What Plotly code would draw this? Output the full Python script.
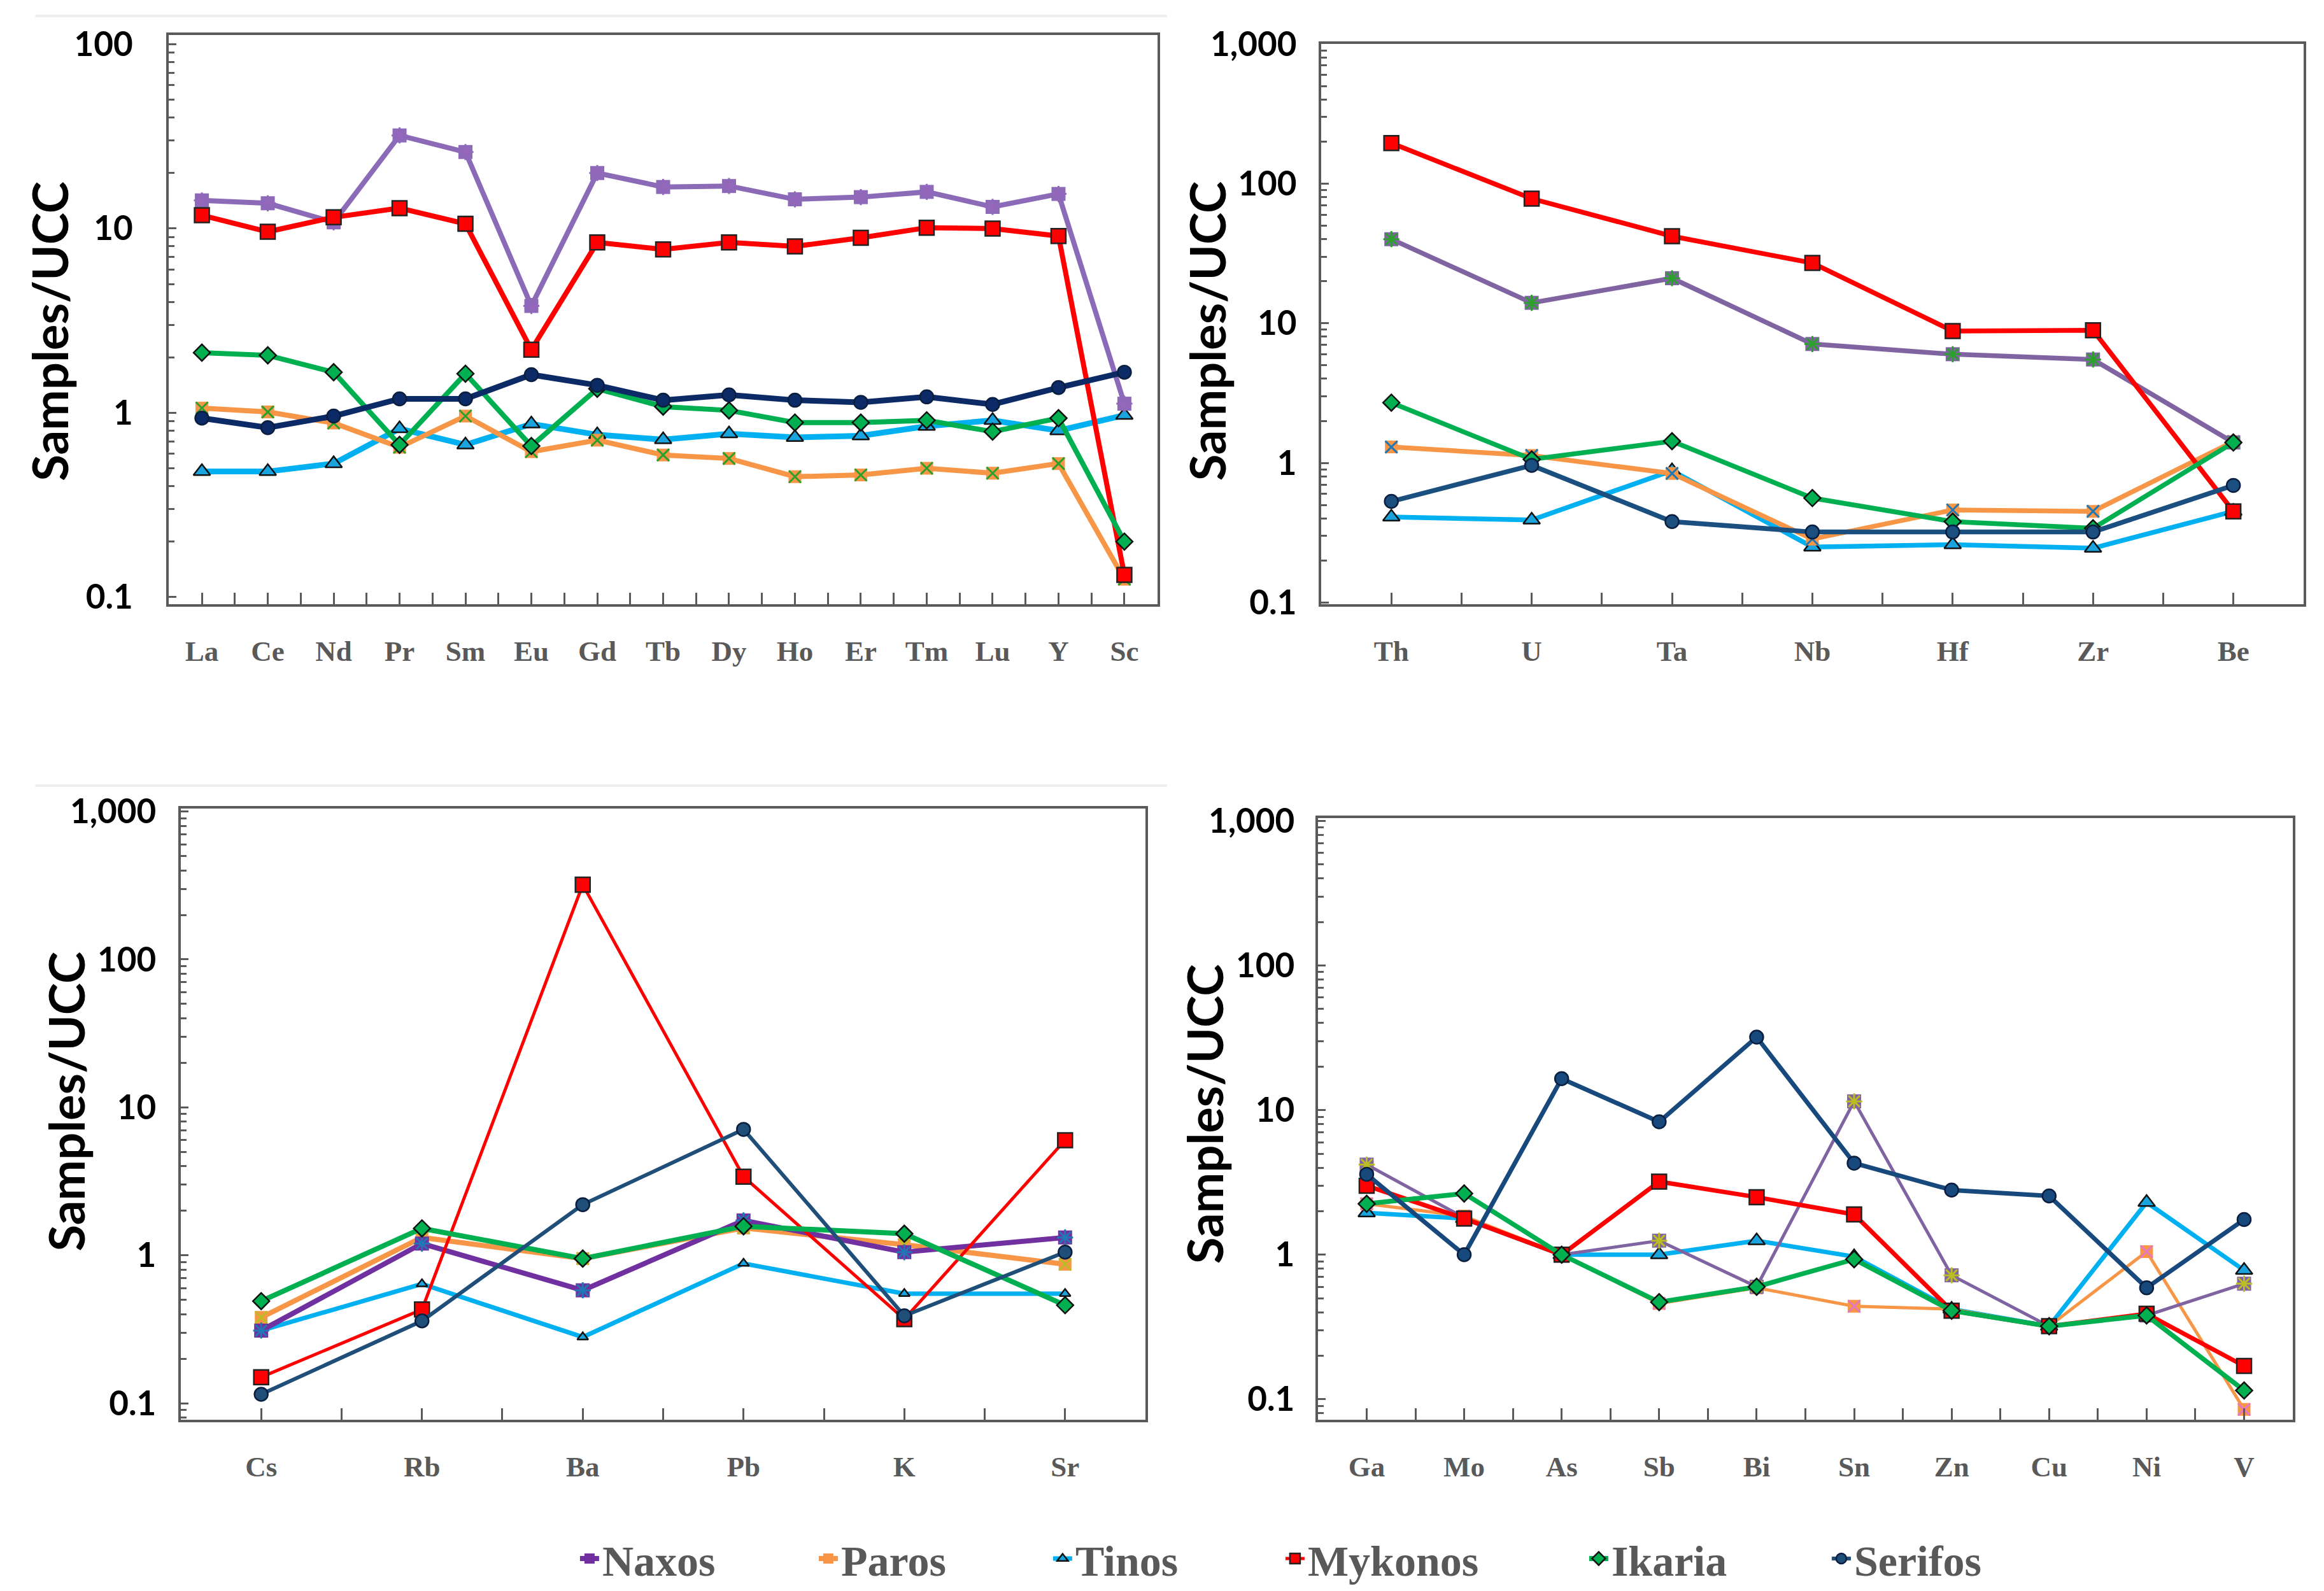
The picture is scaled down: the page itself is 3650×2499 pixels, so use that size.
import plotly.graph_objects as go

# ---------------- DATA ----------------
islands = ["Naxos", "Paros", "Tinos", "Mykonos", "Ikaria", "Serifos"]

ree_elements = ["La", "Ce", "Nd", "Pr", "Sm", "Eu", "Gd", "Tb", "Dy", "Ho", "Er", "Tm", "Lu", "Y", "Sc"]
ree_naxos = [14.2, 13.7, 10.8, 32.0, 26.0, 3.8, 20.0, 16.8, 17.0, 14.4, 14.8, 15.8, 13.1, 15.4, 1.12]
ree_paros = [1.06, 1.01, 0.88, 0.65, 0.96, 0.615, 0.71, 0.59, 0.565, 0.45, 0.46, 0.50, 0.47, 0.53, 0.125]
ree_tinos = [0.48, 0.48, 0.53, 0.82, 0.67, 0.87, 0.76, 0.715, 0.77, 0.735, 0.75, 0.845, 0.91, 0.80, 0.97]
ree_mykonos = [11.8, 9.6, 11.5, 12.9, 10.6, 2.2, 8.4, 7.7, 8.4, 8.0, 8.9, 10.1, 10.0, 9.1, 0.132]
ree_ikaria = [2.12, 2.05, 1.66, 0.67, 1.63, 0.66, 1.35, 1.08, 1.03, 0.885, 0.885, 0.91, 0.79, 0.935, 0.20]
ree_serifos = [0.935, 0.83, 0.96, 1.19, 1.19, 1.61, 1.41, 1.17, 1.25, 1.17, 1.14, 1.22, 1.11, 1.37, 1.66]

hfse_elements = ["Th", "U", "Ta", "Nb", "Hf", "Zr", "Be"]
hfse_naxos = [40.0, 14.0, 21.0, 7.1, 6.0, 5.5, 1.4]
hfse_paros = [1.30, 1.13, 0.84, 0.285, 0.46, 0.45, 1.42]
hfse_tinos = [0.41, 0.39, 0.88, 0.25, 0.26, 0.245, 0.45]
hfse_mykonos = [195.0, 78.0, 42.0, 27.0, 8.8, 8.9, 0.45]
hfse_ikaria = [2.7, 1.06, 1.43, 0.56, 0.38, 0.34, 1.40]
hfse_serifos = [0.53, 0.96, 0.38, 0.32, 0.32, 0.32, 0.69]

lile_elements = ["Cs", "Rb", "Ba", "Pb", "K", "Sr"]
lile_naxos = [0.31, 1.20, 0.58, 1.72, 1.05, 1.32]
lile_paros = [0.38, 1.32, 0.95, 1.53, 1.18, 0.87]
lile_tinos = [0.31, 0.64, 0.28, 0.88, 0.55, 0.55]
lile_mykonos = [0.15, 0.43, 320.0, 3.4, 0.37, 6.0]
lile_ikaria = [0.49, 1.52, 0.95, 1.57, 1.40, 0.46]
lile_serifos = [0.115, 0.36, 2.2, 7.1, 0.39, 1.05]

metal_elements = ["Ga", "Mo", "As", "Sb", "Bi", "Sn", "Zn", "Cu", "Ni", "V"]
metal_naxos = [4.2, 1.8, 1.0, 1.25, 0.60, 11.5, 0.72, 0.32, 0.38, 0.63]
metal_paros = [2.25, 1.85, 1.0, 0.46, 0.59, 0.44, 0.42, 0.32, 1.05, 0.085]
metal_tinos = [1.95, 1.78, 1.0, 1.0, 1.25, 0.97, 0.42, 0.32, 2.3, 0.78]
metal_mykonos = [3.0, 1.78, 1.0, 3.2, 2.5, 1.9, 0.41, 0.32, 0.39, 0.17]
metal_ikaria = [2.25, 2.65, 1.0, 0.47, 0.60, 0.93, 0.41, 0.32, 0.38, 0.115]
metal_serifos = [3.6, 1.0, 16.5, 8.3, 32.0, 4.3, 2.8, 2.55, 0.59, 1.75]

tickvals_p1 = [0.1, 1, 10, 100]
ticktext_p1 = ["0.1", "1", "10", "100"]
tickvals_big = [0.1, 1, 10, 100, 1000]
ticktext_big = ["0.1", "1", "10", "100", "1,000"]
y_title = "Samples/UCC"

# ---------------- STYLES ----------------
panels = [
    dict(cats=ree_elements,
         data={"Naxos": ree_naxos, "Paros": ree_paros, "Tinos": ree_tinos,
               "Mykonos": ree_mykonos, "Ikaria": ree_ikaria, "Serifos": ree_serifos},
         xdom=[0.0705, 0.4958], ydom=[0.6233, 0.9812], yrange=[-1.04, 2.05],
         tickvals=tickvals_p1, ticktext=ticktext_p1, standoff=42,
         naxos_col="#8B6BB8", serifos_col="#0B2A66",
         widths={"Naxos": 8, "Paros": 8, "Tinos": 9, "Mykonos": 8, "Ikaria": 8, "Serifos": 9},
         title_xy=(0.0190, 0.7950)),
    dict(cats=hfse_elements,
         data={"Naxos": hfse_naxos, "Paros": hfse_paros, "Tinos": hfse_tinos,
               "Mykonos": hfse_mykonos, "Ikaria": hfse_ikaria, "Serifos": hfse_serifos},
         xdom=[0.5663, 0.9890], ydom=[0.6236, 0.9756], yrange=[-1.01, 3.0],
         tickvals=tickvals_big, ticktext=ticktext_big, standoff=24,
         naxos_col="#8064A2", serifos_col="#1B4F7F",
         widths={"Naxos": 7.5, "Paros": 7.5, "Tinos": 7.5, "Mykonos": 7.5, "Ikaria": 7.5, "Serifos": 7.5},
         title_xy=(0.5170, 0.7950)),
    dict(cats=lile_elements,
         data={"Naxos": lile_naxos, "Paros": lile_paros, "Tinos": lile_tinos,
               "Mykonos": lile_mykonos, "Ikaria": lile_ikaria, "Serifos": lile_serifos},
         xdom=[0.0756, 0.4907], ydom=[0.1110, 0.4950], yrange=[-1.11, 3.02],
         tickvals=tickvals_big, ticktext=ticktext_big, standoff=24,
         naxos_col="#7030A0", serifos_col="#1F4E79",
         widths={"Naxos": 8, "Paros": 8, "Tinos": 7, "Mykonos": 5, "Ikaria": 8, "Serifos": 6},
         title_xy=(0.0262, 0.3110)),
    dict(cats=metal_elements,
         data={"Naxos": metal_naxos, "Paros": metal_paros, "Tinos": metal_tinos,
               "Mykonos": metal_mykonos, "Ikaria": metal_ikaria, "Serifos": metal_serifos},
         xdom=[0.5649, 0.9844], ydom=[0.1110, 0.4890], yrange=[-1.14, 3.02],
         tickvals=tickvals_big, ticktext=ticktext_big, standoff=22,
         naxos_col="#8064A2", serifos_col="#17497C",
         widths={"Naxos": 5, "Paros": 5, "Tinos": 7, "Mykonos": 7, "Ikaria": 7.5, "Serifos": 7},
         title_xy=(0.5160, 0.3030)),
]

base_colors = {"Paros": "#F79646", "Tinos": "#00B0F0", "Mykonos": "#FF0000", "Ikaria": "#00B050"}
draw_order = ["Tinos", "Paros", "Naxos", "Mykonos", "Ikaria", "Serifos"]
legend_rank = {name: i + 1 for i, name in enumerate(islands)}
legend_width = {"Naxos": 330, "Paros": 323, "Tinos": 320, "Mykonos": 432, "Ikaria": 336, "Serifos": 250}
LEGEND_PANEL = 2

AX_COL = "#5A5A5A"
fig = go.Figure()

for p_i, p in enumerate(panels):
    ax = "" if p_i == 0 else str(p_i + 1)
    xref, yref = "x" + ax, "y" + ax
    xs = list(range(len(p["cats"])))
    for name in draw_order:
        vals = p["data"][name]
        if name == "Naxos":
            col = p["naxos_col"]
        elif name == "Serifos":
            col = p["serifos_col"]
        else:
            col = base_colors[name]
        if name == "Naxos":
            marker = dict(symbol="square", size=22, color=col, line=dict(width=0))
        elif name == "Paros":
            marker = dict(symbol="square", size=20, color=col, line=dict(width=0))
        elif name == "Tinos":
            marker = dict(symbol="triangle-up", size=15 if p_i == 2 else 23, color="#1AA3DD",
                          line=dict(width=2.5, color="#111111"))
        elif name == "Mykonos":
            marker = dict(symbol="square", size=23, color=col, line=dict(width=2.5, color="#222222"))
        elif name == "Ikaria":
            marker = dict(symbol="diamond", size=20, color=col, line=dict(width=2.5, color="#111111"))
        else:
            marker = dict(symbol="circle", size=21, color=col, line=dict(width=2.5, color="#0A1F40"))
        fig.add_trace(go.Scatter(
            x=xs, y=vals, mode="lines+markers", name=name,
            line=dict(color=col, width=p["widths"][name]),
            marker=marker, xaxis=xref, yaxis=yref,
            legendgroup=name, showlegend=(p_i == LEGEND_PANEL),
            legendrank=legend_rank[name], legendwidth=legend_width[name],
        ))
        if name in ("Naxos", "Paros"):
            fig.add_trace(go.Scatter(
                x=xs, y=vals, mode="markers", name=name,
                marker=dict(symbol="asterisk-open" if name == "Naxos" else "x-thin-open",
                            size=21 if name == "Naxos" else 19,
                            line=dict(width=3, color="#111111" if name == "Paros" else "#1A0A2A")),
                xaxis=xref, yaxis=yref, legendgroup=name, showlegend=False, hoverinfo="skip",
            ))

    layout_x = dict(
        domain=p["xdom"], anchor=yref, range=[-0.5, len(p["cats"]) - 0.5],
        tickmode="array", tickvals=xs, ticktext=p["cats"],
        ticks="inside", ticklen=18, tickwidth=3, tickcolor=AX_COL,
        minor=dict(tickmode="linear", tick0=0.5, dtick=1, ticks="inside", ticklen=18,
                   tickwidth=3, tickcolor=AX_COL),
        showline=True, linecolor=AX_COL, linewidth=4, mirror=True,
        showgrid=False, zeroline=False,
        tickfont=dict(family="Liberation Serif, serif", size=45, color="#595959", weight="bold"),
        ticklabelstandoff=31,
    )
    layout_y = dict(
        domain=p["ydom"], anchor=xref, type="log", range=p["yrange"],
        tickmode="array", tickvals=p["tickvals"], ticktext=p["ticktext"],
        ticks="inside", ticklen=12, tickwidth=3, tickcolor=AX_COL,
        minor=dict(dtick="D1", ticks="inside", ticklen=9, tickwidth=3, tickcolor=AX_COL),
        showline=True, linecolor=AX_COL, linewidth=4, mirror=True,
        showgrid=False, zeroline=False,
        tickfont=dict(family="Lato, sans-serif", size=53, color="#000000", weight="bold"),
        ticklabelstandoff=p["standoff"],
    )
    fig.update_layout(**{"xaxis" + ax: layout_x, "yaxis" + ax: layout_y})
    fig.add_annotation(
        text=y_title, textangle=-90, xref="paper", yref="paper",
        x=p["title_xy"][0], y=p["title_xy"][1], xanchor="center", yanchor="middle",
        showarrow=False,
        font=dict(family="Lato, sans-serif", size=76, color="#000000", weight="bold"),
    )

# faint separator rules on the left column
for yy in (1 - 17 / 2499, 1 - 1226 / 2499):
    fig.add_shape(type="line", xref="paper", yref="paper", x0=0.013, x1=0.5, y0=yy, y1=yy,
                  line=dict(color="#EEEEEE", width=4))

fig.update_layout(
    width=3650, height=2499, template="none",
    paper_bgcolor="white", plot_bgcolor="white",
    margin=dict(l=0, r=0, t=0, b=0),
    showlegend=True,
    legend=dict(orientation="h", x=0.246, xanchor="left", y=0.0235, yanchor="middle",
                font=dict(family="Liberation Serif, serif", size=68, color="#595959", weight="bold"),
                bgcolor="rgba(0,0,0,0)", itemsizing="trace", tracegroupgap=0),
)

fig.write_html("out.html")
